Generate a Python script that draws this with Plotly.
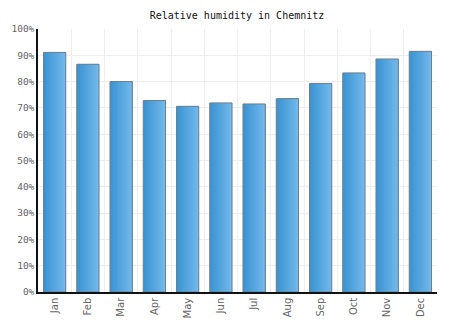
import plotly.graph_objects as go

months = ["Jan", "Feb", "Mar", "Apr", "May", "Jun", "Jul", "Aug", "Sep", "Oct", "Nov", "Dec"]
humidity = [91.1, 86.6, 80.0, 72.8, 70.6, 71.9, 71.5, 73.5, 79.3, 83.3, 88.6, 91.5]
y_ticks = list(range(0, 101, 10))

bar_w = 0.67
n_strips = 14
c0 = (58, 148, 210)
c1 = (114, 184, 235)

fig = go.Figure()
xi = list(range(len(months)))
for k in range(n_strips):
    t = k / (n_strips - 1)
    col = "rgb(%d,%d,%d)" % tuple(round(a + (b - a) * t) for a, b in zip(c0, c1))
    fig.add_trace(go.Bar(
        x=xi, y=humidity, width=bar_w - k * bar_w / n_strips,
        offset=-bar_w / 2 + k * bar_w / n_strips,
        marker=dict(color=col, line=dict(width=0)),
        hoverinfo="skip", showlegend=False))
fig.add_trace(go.Bar(
    x=xi, y=humidity, width=bar_w, offset=-bar_w / 2,
    marker=dict(color="rgba(0,0,0,0)", line=dict(color="#6f7f8c", width=1)),
    showlegend=False))

fig.update_layout(
    barmode="overlay",
    width=474, height=331,
    margin=dict(l=38, r=37, t=29, b=39),
    paper_bgcolor="white", plot_bgcolor="white",
    title=dict(text="Relative humidity in Chemnitz", x=0.5, xanchor="center",
               y=1 - 15 / 331, yanchor="middle",
               font=dict(family="DejaVu Sans Mono", size=10, color="#111")),
    font=dict(family="DejaVu Sans Mono", size=10, color="#666"),
    xaxis=dict(
        range=[-0.5, 11.5], tickmode="array", tickvals=xi, ticktext=months,
        tickangle=-90, showgrid=False, zeroline=False,
        showline=True, linecolor="#111", linewidth=1.5,
        ticks="", tickfont=dict(family="DejaVu Sans", size=10, color="#666"),
        minor=dict(tickmode="array", tickvals=[i + 0.5 for i in xi],
                   showgrid=True, gridcolor="#eeeeee", gridwidth=1, ticks=""),
    ),
    yaxis=dict(
        range=[0, 100], tickmode="array", tickvals=y_ticks,
        ticktext=["%d%%" % v for v in y_ticks],
        showgrid=True, gridcolor="#eeeeee", gridwidth=1, zeroline=False,
        showline=True, linecolor="#111", linewidth=1.5, ticks="",
        tickfont=dict(family="DejaVu Sans Mono", size=9.5, color="#666"),
    ),
)

fig.write_html("out.html")
